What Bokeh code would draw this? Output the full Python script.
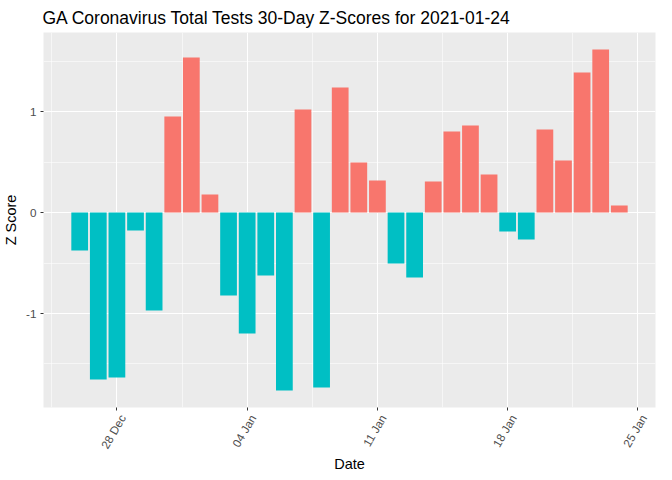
import datetime as dt
from bokeh.plotting import figure
from bokeh.models import (ColumnDataSource, FixedTicker, DatetimeTickFormatter, Range1d,
                          DatetimeAxis, CustomLabelingPolicy)
from bokeh.embed import file_html
from bokeh.resources import INLINE

# ---- data ----
start_date = "2020-12-26"
z_scores = [-0.376, -1.653, -1.634, -0.178, -0.970, 0.950, 1.535, 0.178, -0.822, -1.198,
            -0.624, -1.762, 1.020, -1.733, 1.238, 0.495, 0.317, -0.505, -0.644, 0.307,
            0.802, 0.861, 0.376, -0.188, -0.267, 0.822, 0.515, 1.386, 1.614, 0.069]
x_tick_dates = ["2020-12-28", "2021-01-04", "2021-01-11", "2021-01-18", "2021-01-25"]
y_ticks = [-1, 0, 1]
title_text = "GA Coronavirus Total Tests 30-Day Z-Scores for 2021-01-24"
x_title = "Date"
y_title = "Z Score"

POS_COLOR = "#F8766D"
NEG_COLOR = "#00BFC4"
DAY_MS = 86400000.0

def to_ms(s):
    d = dt.datetime.strptime(s, "%Y-%m-%d").replace(tzinfo=dt.timezone.utc)
    return d.timestamp() * 1000.0

t0 = to_ms(start_date)
xs = [t0 + i * DAY_MS for i in range(len(z_scores))]
colors = [POS_COLOR if v >= 0 else NEG_COLOR for v in z_scores]
src = ColumnDataSource(dict(x=xs, top=z_scores, color=colors))

# ranges as ggplot (5% expansion)
x_lo = xs[0] - 0.45 * DAY_MS
x_hi = xs[-1] + 0.45 * DAY_MS
xpad = (x_hi - x_lo) * 0.05
y_lo, y_hi = min(z_scores), max(z_scores)
ypad = (y_hi - y_lo) * 0.05

p = figure(width=656, height=475, output_backend="svg", toolbar_location=None,
           x_axis_type="datetime",
           x_range=Range1d(x_lo - xpad, x_hi + xpad),
           y_range=Range1d(y_lo - ypad, y_hi + ypad),
           min_border_left=36, min_border_right=1, min_border_top=32, min_border_bottom=60,
           title=title_text)

p.vbar(x="x", top="top", bottom=0, width=0.9 * DAY_MS, fill_color="color",
       line_color=None, source=src)

p.background_fill_color = "#EBEBEB"
p.border_fill_color = "white"
p.outline_line_color = None

# title
p.title.text_font = "Liberation Sans"
p.title.text_font_size = "17.5px"
p.title.text_font_style = "normal"
p.title.text_color = "black"
p.title.offset = -1
p.title.standoff = 10

# x axis: tick marks on one axis (no labels drawn), ggplot-like rotated labels on the main axis
xt = [to_ms(s) for s in x_tick_dates]
xminor = [a - 3.5 * DAY_MS for a in xt] + [xt[-1] + 3.5 * DAY_MS]
label_shift = 0.3 * DAY_MS

tick_axis = DatetimeAxis(ticker=FixedTicker(ticks=xt),
                         major_label_policy=CustomLabelingPolicy(code="return []"),
                         major_label_text_font_size="1px", major_label_standoff=0,
                         axis_line_color=None, major_tick_line_color="#333333",
                         major_tick_out=3, major_tick_in=0, minor_tick_line_color=None)

xax = p.xaxis[0]
xax.ticker = FixedTicker(ticks=[a + label_shift for a in xt])
xax.formatter = DatetimeTickFormatter(days="%d %b", months="%d %b", hours="%d %b")
xax.major_label_orientation = 1.0472
xax.axis_label = x_title
p.below = [tick_axis] + [r for r in p.below]

p.xgrid.ticker = FixedTicker(ticks=xt, minor_ticks=xminor)

# y axis
p.yaxis.ticker = FixedTicker(ticks=y_ticks, minor_ticks=[-1.5, -0.5, 0.5, 1.5])
p.yaxis.major_label_overrides = {-1: "-1", 0: "0", 1: "1"}
p.yaxis.axis_label = y_title

for ax in (xax, p.yaxis[0]):
    ax.axis_line_color = None
    ax.major_tick_line_color = "#333333"
    ax.major_tick_line_width = 1
    ax.major_tick_out = 3
    ax.major_tick_in = 0
    ax.minor_tick_line_color = None
    ax.major_label_text_font = "Liberation Sans"
    ax.major_label_text_font_size = "11.7px"
    ax.major_label_text_color = "#4D4D4D"
    ax.major_label_standoff = 3
    ax.axis_label_text_font = "Liberation Sans"
    ax.axis_label_text_font_size = "14.5px"
    ax.axis_label_text_font_style = "normal"
    ax.axis_label_text_color = "black"
    ax.axis_label_standoff = 4

xax.major_tick_line_color = None
xax.major_tick_out = 0
xax.major_label_standoff = 0
xax.axis_label_standoff = -1

for g in (p.xgrid[0], p.ygrid[0]):
    g.grid_line_color = "white"
    g.grid_line_width = 1.1
    g.minor_grid_line_color = "white"
    g.minor_grid_line_width = 0.55

open("out.html", "w").write(file_html(p, INLINE))
